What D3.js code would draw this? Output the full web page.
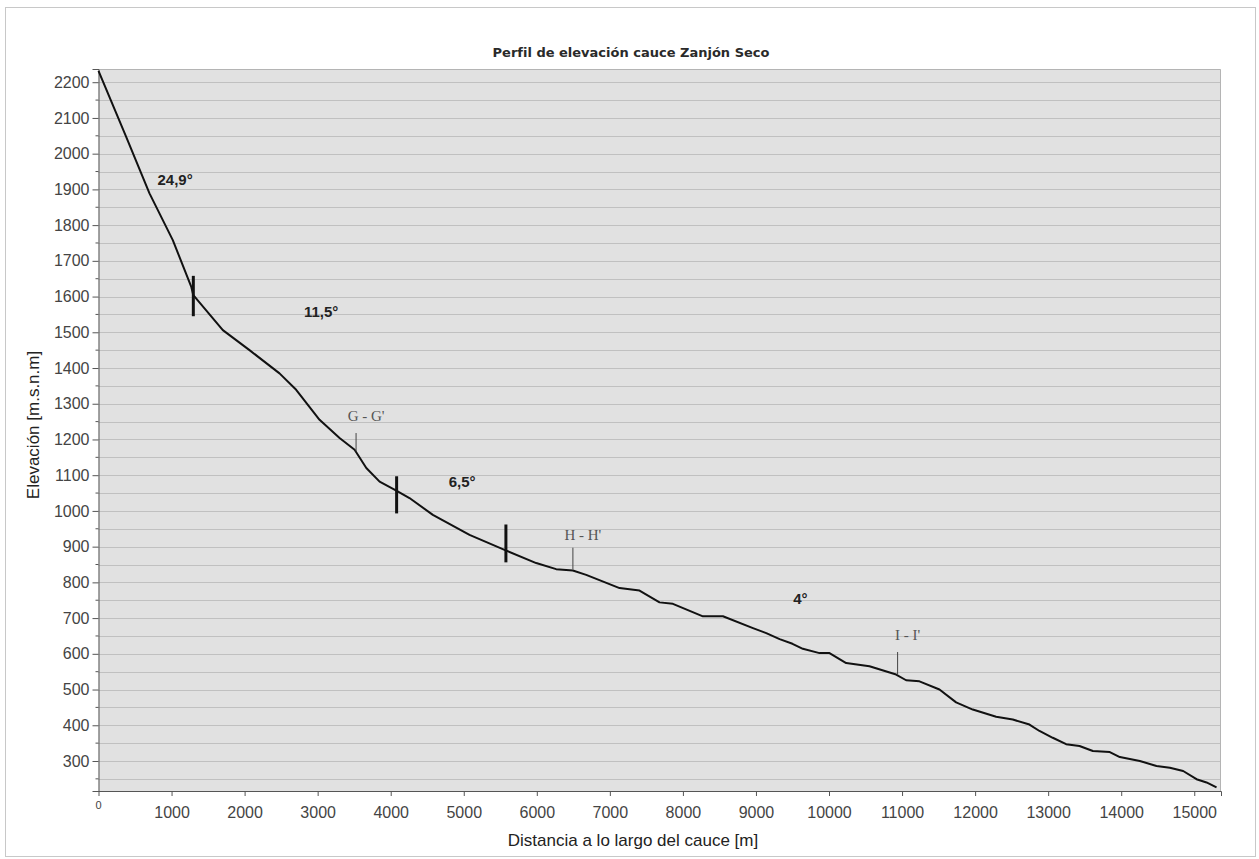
<!DOCTYPE html>
<html lang="es">
    <head>
        <meta charset="utf-8">
        <title>Perfil de elevación cauce Zanjón Seco</title>
        <script type="text/javascript" src="https://cdn.jsdelivr.net/npm/d3@7"></script>
        <style type="text/css">
            body { margin: 0; background: #fff; }
            text { font-family: "Liberation Sans", Arial, sans-serif; }
        </style>
    </head>
    <body>
        <script type="text/javascript">

            //Width and height
            var w = 1259;
            var h = 859;

            //Plot box  (don't call it "top", that is window.top!)
            var pLeft = 98.5, pRight = 1221, pTop = 69, pBottom = 791;

            //Data - profile (distance [m], elevation [m])
            var distancia = [0, 379, 698, 1017, 1269, 1298, 1702, 2067, 2478, 2706, 3026, 3300, 3506, 3666, 3848,
                4077, 4257, 4577, 5079, 5558, 5992, 6265, 6493, 6676, 7133, 7406, 7680, 7863, 8274, 8548,
                8959, 9141, 9324, 9500, 9642, 9870, 10007, 10235, 10554, 10919, 11056, 11238, 11512, 11740,
                11968, 12288, 12516, 12744, 12881, 13063, 13246, 13429, 13612, 13844, 13981, 14255, 14483,
                14666, 14848, 15031, 15168, 15305];
            var elevacion = [2232, 2047, 1889, 1758, 1628, 1604, 1506, 1450, 1385, 1339, 1255, 1204, 1171, 1120, 1082,
                1057, 1036, 989, 933, 891, 854, 837, 833, 821, 784, 777, 744, 740, 705, 705,
                672, 658, 641, 628, 614, 602, 602, 574, 565, 542, 526, 523, 500, 464,
                444, 424, 416, 402, 384, 365, 347, 342, 328, 325, 311, 300, 286,
                281, 272, 249, 240, 226];

            //Tick labels
            var xTicks = [1000, 2000, 3000, 4000, 5000, 6000, 7000, 8000, 9000, 10000, 11000, 12000, 13000, 14000, 15000];
            var yTicks = [300, 400, 500, 600, 700, 800, 900, 1000, 1100, 1200, 1300, 1400, 1500, 1600, 1700, 1800, 1900, 2000, 2100, 2200];

            //Slope labels and break bars
            var pendientes = ["24,9°", "11,5°", "6,5°", "4°"];
            var pendX = [1048, 3047, 4978, 9607];
            var pendY = [1913, 1543, 1066, 739];
            var quiebreX = [1298, 4081, 5577];
            var quiebreTop = [1658, 1097, 962];
            var quiebreBot = [1545, 993, 856];

            //Cross sections
            var perfiles = ["G - G'", "H - H'", "I - I'"];
            var perfilX = [3526, 6494, 10939];
            var perfilTop = [1218, 897, 605];
            var perfilBot = [1167, 836, 542];
            var perfilLabelY = [1252, 918, 640];

            var x = d3.scaleLinear().domain([0, 15366]).range([pLeft, pRight]);
            var y = d3.scaleLinear().domain([216, 2237]).range([pBottom, pTop]);

            var svg = d3.select("body")
                        .append("svg")
                        .attr("width", w)
                        .attr("height", h);

            //outer frame
            svg.append("rect")
                .attr("x", 5.5).attr("y", 7.5)
                .attr("width", 1250).attr("height", 849)
                .attr("fill", "#fff")
                .attr("stroke", "#c8c8c8");

            //Title
            svg.append("text")
                .text("Perfil de elevación cauce Zanjón Seco")
                .attr("x", 631)
                .attr("y", 57)
                .attr("text-anchor", "middle")
                .attr("font-weight", "bold")
                .attr("font-size", 13)
                .style("font-family", "DejaVu Sans, Verdana, sans-serif")
                .attr("fill", "#2a2a2a");

            //plot background
            svg.append("rect")
                .attr("x", pLeft).attr("y", pTop)
                .attr("width", pRight - pLeft).attr("height", pBottom - pTop)
                .attr("fill", "#e1e1e1");

            //grid every 50 m
            var grid = d3.range(250, 2237, 50);
            svg.selectAll(".grid")
                .data(grid)
                .enter()
                .append("line")
                .attr("class", "grid")
                .attr("x1", pLeft).attr("x2", pRight)
                .attr("y1", function(d) { return Math.round(y(d)) + 0.5; })
                .attr("y2", function(d) { return Math.round(y(d)) + 0.5; })
                .attr("stroke", "#c0c0c0")
                .attr("stroke-width", 1);

            //top/right border
            svg.append("path")
                .attr("d", "M" + pLeft + "," + (pTop + 0.5) + "H" + (pRight - 0.5) + "V" + pBottom)
                .attr("fill", "none")
                .attr("stroke", "#b4b4b4");

            //y axis
            var yAxis = d3.axisLeft(y).tickValues(yTicks).tickFormat(d3.format("d")).tickSize(6).tickPadding(3);
            var gy = svg.append("g")
                .attr("transform", "translate(" + pLeft + ",0)")
                .call(yAxis);
            gy.selectAll(".tick text").attr("font-size", 16).attr("fill", "#444")
                .style("font-family", "Liberation Sans, Arial, sans-serif");

            //minor y ticks
            svg.selectAll(".yminor")
                .data(d3.range(250, 2237, 100))
                .enter()
                .append("line")
                .attr("x1", pLeft - 3).attr("x2", pLeft)
                .attr("y1", function(d) { return y(d); })
                .attr("y2", function(d) { return y(d); })
                .attr("stroke", "#555");

            //x axis
            var xAxis = d3.axisBottom(x).tickValues(xTicks).tickFormat(d3.format("d")).tickSize(5).tickPadding(11);
            var gx = svg.append("g")
                .attr("transform", "translate(0," + pBottom + ")")
                .call(xAxis);
            gx.selectAll(".tick text").attr("font-size", 16).attr("fill", "#444")
                .style("font-family", "Liberation Sans, Arial, sans-serif");

            svg.selectAll(".domain").attr("stroke", "#555");
            svg.selectAll(".tick line").attr("stroke", "#555");

            //the small zero under the corner
            svg.append("text")
                .text("0")
                .attr("x", x(0))
                .attr("y", pBottom + 18)
                .attr("text-anchor", "middle")
                .attr("font-size", 11)
                .attr("fill", "#444");

            //axis titles
            svg.append("text")
                .text("Distancia a lo largo del cauce [m]")
                .attr("x", 633)
                .attr("y", 846)
                .attr("text-anchor", "middle")
                .attr("font-size", 17)
                .attr("fill", "#222");

            svg.append("text")
                .text("Elevación [m.s.n.m]")
                .attr("transform", "translate(39,425) rotate(-90)")
                .attr("text-anchor", "middle")
                .attr("font-size", 17)
                .attr("fill", "#222");

            //profile line
            var perfil = distancia.map(function(d, i) { return [d, elevacion[i]]; });
            var line = d3.line()
                .x(function(d) { return x(d[0]); })
                .y(function(d) { return y(d[1]); });

            svg.append("path")
                .datum(perfil)
                .attr("d", line)
                .attr("fill", "none")
                .attr("stroke", "#111")
                .attr("stroke-width", 2)
                .attr("stroke-linejoin", "round");

            //break bars between slope sections
            svg.selectAll(".quiebre")
                .data(quiebreX)
                .enter()
                .append("line")
                .attr("x1", function(d) { return x(d); })
                .attr("x2", function(d) { return x(d); })
                .attr("y1", function(d, i) { return y(quiebreTop[i]); })
                .attr("y2", function(d, i) { return y(quiebreBot[i]); })
                .attr("stroke", "#111")
                .attr("stroke-width", 3);

            //slope labels
            svg.selectAll(".pend")
                .data(pendientes)
                .enter()
                .append("text")
                .text(function(d) { return d; })
                .attr("x", function(d, i) { return x(pendX[i]); })
                .attr("y", function(d, i) { return y(pendY[i]); })
                .attr("text-anchor", "middle")
                .attr("font-weight", "bold")
                .attr("font-size", 15)
                .attr("fill", "#222");

            //cross section marks
            svg.selectAll(".perf")
                .data(perfilX)
                .enter()
                .append("line")
                .attr("x1", function(d) { return x(d); })
                .attr("x2", function(d) { return x(d); })
                .attr("y1", function(d, i) { return y(perfilTop[i]); })
                .attr("y2", function(d, i) { return y(perfilBot[i]); })
                .attr("stroke", "#444")
                .attr("stroke-width", 1);

            //serif labels: use style() or the css rule above wins over the attribute
            svg.selectAll(".perflabel")
                .data(perfiles)
                .enter()
                .append("text")
                .text(function(d) { return d; })
                .attr("x", function(d, i) { return x(perfilX[i]) + 10; })
                .attr("y", function(d, i) { return y(perfilLabelY[i]); })
                .attr("text-anchor", "middle")
                .style("font-family", "Liberation Serif, Times New Roman, serif")
                .attr("font-size", 15)
                .attr("fill", "#555");
        </script>
    </body>
</html>
